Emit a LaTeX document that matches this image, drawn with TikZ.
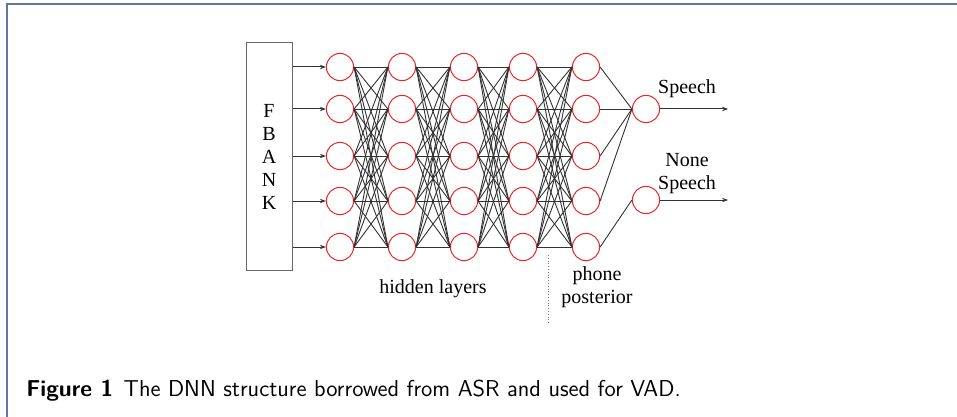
\documentclass[tikz,border=0pt]{standalone}
\usepackage{fontspec}
\setmainfont{Liberation Serif}
\usepackage{tikz}
\usetikzlibrary{arrows.meta,positioning}
\definecolor{vadred}{RGB}{235,35,35}
\definecolor{vadframe}{RGB}{95,120,155}
\definecolor{vadline}{RGB}{50,50,50}

\begin{document}
\begin{tikzpicture}[
  x=0.5pt, y=-0.5pt,
  >={Stealth[length=3pt,width=2.2pt]},
  every node/.style={font=\fontsize{10}{11.5}\selectfont},
  neuron/.style={circle, draw=vadred, line width=0.5pt,
                 minimum size=13.6pt, inner sep=0pt},
  link/.style={vadline, line width=0.45pt},
  arrow/.style={->, vadline, line width=0.5pt}
]
\useasboundingbox (0,0) rectangle (957,417);

%% Frame
\draw[vadframe, line width=0.8pt] (7,417) -- (7,4) -- (957,4);

%% FBANK input
\node[draw=gray!80!black, line width=0.5pt,
      minimum width=23pt, minimum height=113.5pt,
      align=center, inner sep=0pt] (fbank) at (269,156.5)
  {F\\B\\A\\N\\K};

%% Hidden layers
\foreach \c/\x in {1/340,2/402,3/464,4/523,5/586}
  \foreach \r/\y in {1/67,2/109,3/156,4/201,5/247}
    \node[neuron] (h\c-\r) at (\x,\y) {};

\foreach \r in {1,...,5}
  \draw[arrow] (fbank.east |- h1-\r) -- (h1-\r.west);

%% Full connections between layers
\foreach \c [evaluate=\c as \n using int(\c+1)] in {1,...,4}
  \foreach \i in {1,...,5}
    \foreach \j in {1,...,5}
      \draw[link] (h\c-\i.east) -- (h\n-\j.west);

%% Outputs
\node[neuron] (speech) at (646,109) {};
\node[neuron] (nonspeech) at (646,200) {};

\foreach \r in {1,...,4}
  \draw[link] (h5-\r.east) -- (speech.west);
\draw[link] (h5-5.east) -- (nonspeech.west);

\coordinate[right=34pt of speech] (speechend);
\coordinate[right=34pt of nonspeech] (nonspeechend);
\draw[arrow] (speech.east) -- (speechend);
\draw[arrow] (nonspeech.east) -- (nonspeechend);

\node (speechlbl) at (687,89) {Speech};
\node[align=center] (nonspeechlbl) at (687,174) {None\\Speech};

%% Labels
\node (hiddenlbl) at (433,289) {hidden layers};
\node[align=center] (posteriorlbl) at (597,287) {phone\\posterior};

\coordinate (septop) at (548,255);
\coordinate (sepbot) at (548,323);
\draw[densely dotted, gray!90!black, line width=0.4pt] (septop) -- (sepbot);

%% Caption
\node[anchor=base west, inner sep=0pt,
      font=\sffamily\fontsize{11.5}{13}\selectfont]
  (caption) at (26,396)
  {\textbf{Figure 1}\hspace{0.45em}The DNN structure borrowed from ASR and used for VAD.};

\end{tikzpicture}
\end{document}
